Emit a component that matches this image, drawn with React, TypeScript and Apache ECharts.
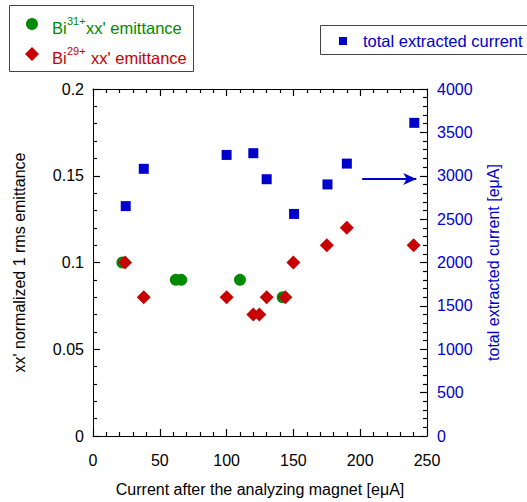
import React, { useEffect, useRef } from "react";
import * as echarts from "echarts";

// Bi31+ xx' emittance (current after magnet [eμA], emittance)
const bi31X = [22, 62, 66, 110, 142];
const bi31Y = [0.1, 0.09, 0.09, 0.09, 0.08];
// Bi29+ xx' emittance
const bi29X = [24, 38, 100, 120, 124.5, 130, 144, 150, 175, 190, 240];
const bi29Y = [0.1, 0.08, 0.08, 0.07, 0.07, 0.08, 0.08, 0.1, 0.11, 0.12, 0.11];
// total extracted current [eμA]
const totX = [24.5, 38, 100, 120, 130, 150.5, 175.5, 190, 240.5];
const totY = [2650, 3080, 3240, 3260, 2960, 2560, 2900, 3140, 3610];

const FONT = "'Liberation Sans', Arial, Helvetica, sans-serif";
const GREEN = "#008a00";
const RED = "#c80000";
const BLUE = "#0000cc";
const TICK = "#000";

export default function App() {
  const ref = useRef<HTMLDivElement>(null);
  useEffect(() => {
    if (!ref.current) return;
    const chart = echarts.init(ref.current, null, { renderer: "svg" });
    const pair = (xs: number[], ys: number[]) => xs.map((x, i) => [x, ys[i]]);
    const tick = () => ({ show: true, inside: true, length: 7, lineStyle: { color: TICK, width: 1.2 } });
    const minor = () => ({ show: true, splitNumber: 5, length: 4, lineStyle: { color: TICK, width: 1.2 } });
    const axLine = () => ({ show: true, onZero: false, lineStyle: { color: "#000", width: 1 } });
    const plain = (v: number) => String(v);
    chart.setOption({
      animation: false,
      backgroundColor: "#fff",
      textStyle: { fontFamily: FONT },
      grid: { left: 93, right: 100, top: 89, bottom: 63, containLabel: false },
      xAxis: [
        {
          type: "value",
          position: "bottom",
          min: 0,
          max: 250,
          interval: 50,
          axisLine: axLine(),
          axisTick: tick(),
          minorTick: minor(),
          splitLine: { show: false },
          axisLabel: { color: "#000", fontSize: 16, fontFamily: FONT, margin: 16, formatter: plain },
          name: "Current after the analyzing magnet [eμA]",
          nameLocation: "middle",
          nameGap: 45,
          nameTextStyle: { color: "#000", fontSize: 16, fontFamily: FONT },
        },
        {
          type: "value",
          position: "top",
          min: 0,
          max: 250,
          interval: 50,
          axisLine: axLine(),
          axisTick: tick(),
          minorTick: minor(),
          splitLine: { show: false },
          axisLabel: { show: false },
        },
      ],
      yAxis: [
        {
          type: "value",
          position: "left",
          min: 0,
          max: 0.2,
          interval: 0.05,
          axisLine: axLine(),
          axisTick: tick(),
          minorTick: minor(),
          splitLine: { show: false },
          axisLabel: { color: "#000", fontSize: 16, fontFamily: FONT, margin: 9, formatter: plain },
          name: "xx' normalized 1 rms emittance",
          nameLocation: "middle",
          nameGap: 66,
          nameTextStyle: { color: "#000", fontSize: 16, fontFamily: FONT },
        },
        {
          type: "value",
          position: "right",
          min: 0,
          max: 4000,
          interval: 500,
          axisLine: axLine(),
          axisTick: tick(),
          minorTick: minor(),
          splitLine: { show: false },
          axisLabel: { color: BLUE, fontSize: 16, fontFamily: FONT, margin: 10, formatter: plain },
          name: "total extracted current [eμA]",
          nameLocation: "middle",
          nameGap: 58,
          nameTextStyle: { color: BLUE, fontSize: 16, fontFamily: FONT },
        },
      ],
      series: [
        {
          name: "Bi31+ xx' emittance",
          type: "scatter",
          xAxisIndex: 0,
          yAxisIndex: 0,
          symbol: "circle",
          symbolSize: 12,
          itemStyle: { color: GREEN, opacity: 1 },
          data: pair(bi31X, bi31Y),
          z: 2,
        },
        {
          name: "Bi29+ xx' emittance",
          type: "scatter",
          xAxisIndex: 0,
          yAxisIndex: 0,
          symbol: "diamond",
          symbolSize: 14,
          itemStyle: { color: RED, opacity: 1 },
          data: pair(bi29X, bi29Y),
          z: 3,
        },
        {
          name: "total extracted current",
          type: "scatter",
          xAxisIndex: 0,
          yAxisIndex: 1,
          symbol: "rect",
          symbolSize: 10,
          itemStyle: { color: BLUE, opacity: 1 },
          data: pair(totX, totY),
          z: 4,
          markLine: {
            silent: true,
            symbol: ["none", "arrow"],
            symbolSize: [9, 13],
            label: { show: false },
            lineStyle: { color: BLUE, width: 2, type: "solid" },
            data: [[{ coord: [201.5, 2963] }, { coord: [242, 2963] }]],
          },
        },
      ],
      graphic: [
        {
          type: "rect",
          shape: { x: 9.5, y: 5.5, width: 184, height: 66 },
          style: { fill: "#fff", stroke: "#444", lineWidth: 1 },
          z: 10,
        },
        { type: "circle", shape: { cx: 32, cy: 24, r: 6 }, style: { fill: GREEN }, z: 11 },
        {
          type: "text",
          x: 52,
          y: 28,
          style: { text: "Bi", fill: GREEN, font: `16.5px ${FONT}`, verticalAlign: "middle" },
          z: 11,
        },
        {
          type: "text",
          x: 67,
          y: 21,
          style: { text: "31+", fill: GREEN, font: `11px ${FONT}`, verticalAlign: "middle" },
          z: 11,
        },
        {
          type: "text",
          x: 86,
          y: 28,
          style: { text: "xx' emittance", fill: GREEN, font: `16.5px ${FONT}`, verticalAlign: "middle" },
          z: 11,
        },
        {
          type: "polygon",
          shape: { points: [[32, 47], [39, 54], [32, 61], [25, 54]] },
          style: { fill: RED },
          z: 11,
        },
        {
          type: "text",
          x: 52,
          y: 58,
          style: { text: "Bi", fill: RED, font: `16.5px ${FONT}`, verticalAlign: "middle" },
          z: 11,
        },
        {
          type: "text",
          x: 67,
          y: 51,
          style: { text: "29+", fill: RED, font: `11px ${FONT}`, verticalAlign: "middle" },
          z: 11,
        },
        {
          type: "text",
          x: 91,
          y: 58,
          style: { text: "xx' emittance", fill: RED, font: `16.5px ${FONT}`, verticalAlign: "middle" },
          z: 11,
        },
        {
          type: "rect",
          shape: { x: 320.5, y: 25.5, width: 230, height: 29 },
          style: { fill: "#fff", stroke: "#444", lineWidth: 1 },
          z: 10,
        },
        {
          type: "rect",
          shape: { x: 339, y: 37, width: 8, height: 8 },
          style: { fill: BLUE },
          z: 11,
        },
        {
          type: "text",
          x: 363,
          y: 41,
          style: { text: "total extracted current", fill: BLUE, font: `16.5px ${FONT}`, verticalAlign: "middle" },
          z: 11,
        },
      ],
    });
    return () => chart.dispose();
  }, []);
  return (
    <div
      ref={ref}
      style={{ position: "fixed", left: 0, top: 0, width: 527, height: 502, background: "#fff" }}
    />
  );
}
